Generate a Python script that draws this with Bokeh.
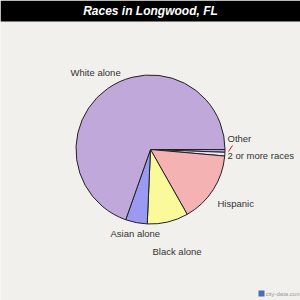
import math
from bokeh.plotting import figure
from bokeh.models import Range1d, ColumnDataSource
from bokeh.core.properties import value
from bokeh.embed import file_html
from bokeh.resources import INLINE

# ---- data ----
categories = ["Other", "2 or more races", "Hispanic", "Black alone", "Asian alone", "White alone"]
percents = [0.6, 0.8, 15.4, 8.9, 4.7, 69.6]
colors = ["#b8a0d8", "#ece6f4", "#f5b2b2", "#fafa9a", "#9a9af2", "#c0a8da"]

title = "Races in Longwood, FL"

# ---- layout (screen px, y from top) ----
W = H = 300
cx, cy, r = 150, 149, 74.5
label_pos = {
    "White alone": (70, 72),
    "Other": (227, 138),
    "2 or more races": (227, 155),
    "Hispanic": (217, 203),
    "Asian alone": (110, 233),
    "Black alone": (152, 251),
}

p = figure(width=W, height=H, output_backend="svg", toolbar_location=None,
           x_range=Range1d(0, W), y_range=Range1d(0, H), min_border=0)
p.axis.visible = False
p.grid.visible = False
p.outline_line_color = None
p.background_fill_color = "#f2f0ed"
p.border_fill_color = "#f2f0ed"

# title bar
p.quad(left=0, right=W, bottom=H - 21, top=H, fill_color="black", line_color=None)
p.text(x=[W / 2], y=[H - 10.5], text=[title], text_color="white",
       text_font=value("Liberation Sans"), text_font_size="12px",
       text_font_style="bold italic", text_align="center", text_baseline="middle")

# pie: clockwise from east
total = sum(percents)
starts, ends = [], []
cum = 0.0
for v in percents:
    a0 = -2 * math.pi * cum / total
    cum += v
    a1 = -2 * math.pi * cum / total
    starts.append(a1)
    ends.append(a0)

src = ColumnDataSource(dict(start=starts, end=ends, color=colors, cat=categories))
p.wedge(x=cx, y=H - cy, radius=r, start_angle="start", end_angle="end",
        fill_color="color", line_color="#222222", line_width=1, source=src)

# labels
lx = [label_pos[c][0] for c in categories]
ly = [H - label_pos[c][1] for c in categories]
p.text(x=lx, y=ly, text=categories, text_color="#333333",
       text_font=value("Liberation Sans"), text_font_size="9.5px",
       text_align="left", text_baseline="middle")

# red leader line for small slice
p.line(x=[228, 232], y=[H - 151, H - 145], line_color="red", line_width=1)

# watermark
p.quad(left=258, right=264, bottom=H - 296, top=H - 290, fill_color="#4a6fb0", line_color=None)
p.text(x=[265], y=[H - 293], text=["city-data.com"], text_color="#999999",
       text_font=value("Liberation Sans"), text_font_size="6px",
       text_align="left", text_baseline="middle")

open("out.html", "w").write(file_html(p, INLINE))
